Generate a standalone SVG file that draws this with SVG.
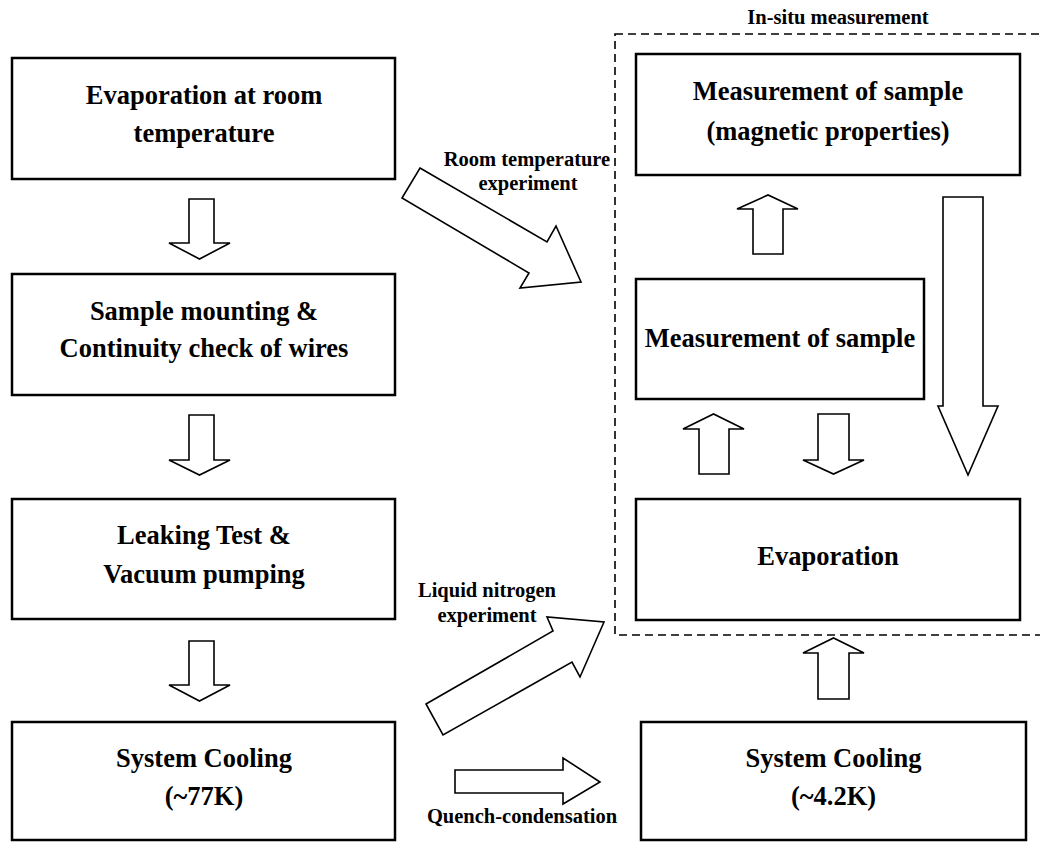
<svg xmlns="http://www.w3.org/2000/svg" width="1040" height="842" viewBox="0 0 1040 842">
<style>
.box{fill:#fff;stroke:#000;stroke-width:2.5}
.t{font-family:"Liberation Serif","Times New Roman",serif;font-weight:bold;font-size:26.5px;text-anchor:middle;fill:#000}
.l{font-family:"Liberation Serif","Times New Roman",serif;font-weight:bold;font-size:20.5px;text-anchor:middle;fill:#000}
.arr{fill:#fff;stroke:#000;stroke-width:1.6;stroke-linejoin:miter}
.dash{fill:none;stroke:#000;stroke-width:1.6;stroke-dasharray:8 5}
</style>
<rect width="1040" height="842" fill="#fff"/>
<g id="insitu">
<rect class="dash" x="615" y="34" width="440" height="601"/>
<text class="l" x="838" y="24">In-situ measurement</text>
</g>
<g id="n1"><rect class="box" x="12" y="58" width="383" height="121"/>
<text class="t" x="204" y="104">Evaporation at room</text><text class="t" x="204" y="142">temperature</text></g>
<g id="n2"><rect class="box" x="12" y="274" width="383" height="121"/>
<text class="t" x="204" y="320">Sample mounting &amp;</text><text class="t" x="204" y="357">Continuity check of wires</text></g>
<g id="n3"><rect class="box" x="12" y="499" width="383" height="120"/>
<text class="t" x="204" y="544">Leaking Test &amp;</text><text class="t" x="204" y="583">Vacuum pumping</text></g>
<g id="n4"><rect class="box" x="12" y="722" width="383" height="118"/>
<text class="t" x="204" y="767">System Cooling</text><text class="t" x="204" y="805">(~77K)</text></g>
<g id="n5"><rect class="box" x="636" y="54" width="384" height="121"/>
<text class="t" x="828" y="100">Measurement of sample</text><text class="t" x="828" y="140">(magnetic properties)</text></g>
<g id="n6"><rect class="box" x="636" y="279" width="288" height="120"/>
<text class="t" x="780" y="347">Measurement of sample</text></g>
<g id="n7"><rect class="box" x="636" y="499" width="384" height="121"/>
<text class="t" x="828" y="565">Evaporation</text></g>
<g id="n8"><rect class="box" x="641" y="722" width="385" height="118"/>
<text class="t" x="833.5" y="767">System Cooling</text><text class="t" x="833.5" y="805">(~4.2K)</text></g>
<g id="connectors">
<polygon class="arr" points="189,199 214,199 214,243 230,243 199.5,259 169,243 189,243"/>
<polygon class="arr" points="189,415 214,415 214,460 230,460 199.5,475 169,460 189,460"/>
<polygon class="arr" points="189,641 214,641 214,685 230,685 199.5,701 169,685 189,685"/>
<polygon class="arr" points="420,168 547,242 556,226 581,282 520,288 529,273 402,198"/>
<polygon class="arr" points="426,704 553,631 547,617 604,622 580,677 572,662 443,735"/>
<polygon class="arr" points="455,770 563,770 563,758 600,782 563,804 563,793 455,793"/>
<polygon class="arr" points="753,254 783,254 783,209 798,209 768,195 737,209 753,209"/>
<polygon class="arr" points="943,197 983,197 983,406 998,406 968,475 938,406 943,406"/>
<polygon class="arr" points="699,474 729,474 729,429 744,429 713.5,414 683,429 699,429"/>
<polygon class="arr" points="818,414 849,414 849,460 864,460 833.5,474 803,460 818,460"/>
<polygon class="arr" points="818,699 849,699 849,653 864,653 833.5,638 803,653 818,653"/>
<text class="l" x="527" y="166">Room temperature</text>
<text class="l" x="528" y="190">experiment</text>
<text class="l" x="487" y="597">Liquid nitrogen</text>
<text class="l" x="487" y="622">experiment</text>
<text class="l" x="522" y="823">Quench-condensation</text>
</g>
</svg>
